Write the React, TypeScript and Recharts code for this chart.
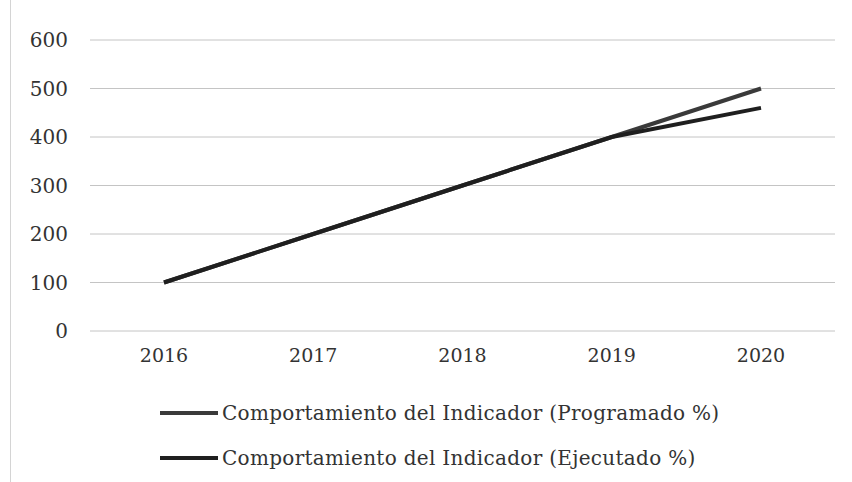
import { LineChart, Line, XAxis, YAxis, CartesianGrid, Legend } from "recharts";

const years = ["2016", "2017", "2018", "2019", "2020"];
const programado = [100, 200, 300, 400, 500];
const ejecutado = [100, 200, 300, 400, 460];
const yTicks = [0, 100, 200, 300, 400, 500, 600];

const seriesNames = {
  programado: "Comportamiento del Indicador (Programado %)",
  ejecutado: "Comportamiento del Indicador (Ejecutado %)",
};
const legendOrder = ["programado", "ejecutado"];

const data = years.map((year, i) => ({
  year,
  programado: programado[i],
  ejecutado: ejecutado[i],
}));

const FONT = "'DejaVu Serif', serif";

function LegendRows({ payload }: any) {
  const items = [...(payload || [])].sort(
    (a: any, b: any) => legendOrder.indexOf(a.dataKey) - legendOrder.indexOf(b.dataKey)
  );
  return (
    <div style={{ height: 90, fontFamily: FONT, fontSize: 20, letterSpacing: 0.3, color: "#333" }}>
      {items.map((p: any) => (
        <div
          key={p.dataKey}
          style={{ display: "flex", alignItems: "center", height: 45, paddingLeft: 160 }}
        >
          <span
            style={{
              display: "inline-block",
              width: 58,
              height: 4,
              background: p.color,
              marginRight: 4,
            }}
          />
          <span>{p.value}</span>
        </div>
      ))}
    </div>
  );
}

export default function App() {
  return (
    <div
      style={{
        position: "absolute",
        top: 0,
        left: 0,
        width: 852,
        height: 482,
        background: "#fff",
      }}
    >
      <div
        style={{
          position: "absolute",
          left: 10,
          top: 0,
          width: 1,
          height: 482,
          background: "#d4d4d4",
        }}
      />
      <LineChart
        width={852}
        height={482}
        data={data}
        margin={{ top: 40, right: 17, bottom: 31, left: 30 }}
      >
        <CartesianGrid vertical={false} stroke="#c4c4c4" strokeWidth={1} />
        <XAxis
          dataKey="year"
          axisLine={false}
          tickLine={false}
          tickSize={0}
          tickMargin={18}
          height={30}
          padding={{ left: 74, right: 74 }}
          tick={{ fontFamily: FONT, fontSize: 19, fill: "#333" }}
        />
        <YAxis
          domain={[0, 600]}
          ticks={yTicks}
          width={60}
          axisLine={false}
          tickLine={false}
          tickSize={0}
          tickMargin={22}
          tick={{ fontFamily: FONT, fontSize: 20, fill: "#333" }}
        />
        <Legend
          verticalAlign="bottom"
          content={<LegendRows />}
          wrapperStyle={{ top: 390, left: 0, bottom: "auto" }}
        />
        <Line
          type="linear"
          dataKey="programado"
          name={seriesNames.programado}
          stroke="#3a3a3a"
          strokeWidth={4}
          dot={false}
          isAnimationActive={false}
        />
        <Line
          type="linear"
          dataKey="ejecutado"
          name={seriesNames.ejecutado}
          stroke="#1f1f1f"
          strokeWidth={4}
          dot={false}
          isAnimationActive={false}
        />
      </LineChart>
    </div>
  );
}
